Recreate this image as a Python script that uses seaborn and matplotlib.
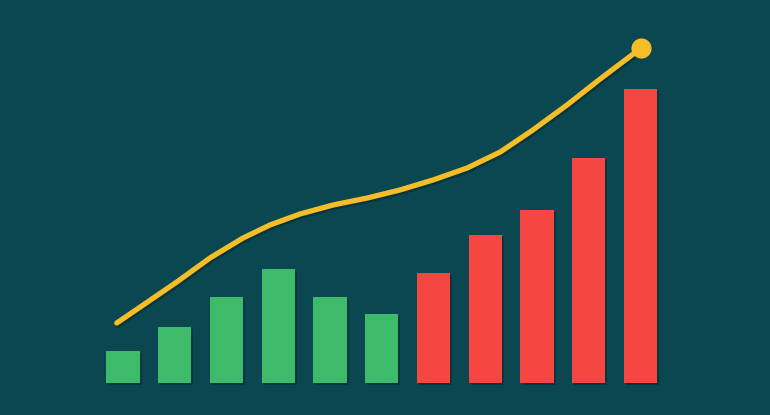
import matplotlib
matplotlib.use("Agg")
import matplotlib.pyplot as plt
import matplotlib.patheffects as pe
import seaborn as sns
import pandas as pd

# ---- data ----
categories = ["P1", "P2", "P3", "P4", "P5", "P6", "P7", "P8", "P9", "P10", "P11"]
bar_values = [32, 56, 86, 114, 86, 69, 110, 148, 173, 225, 294]
bar_groups = ["up", "up", "up", "up", "up", "up", "down", "down", "down", "down", "down"]
curve_x = [-0.12, 0.39, 1.04, 1.68, 2.32, 2.84, 3.42, 4.06, 4.72, 5.35,
           5.99, 6.65, 7.29, 7.92, 8.58, 9.22, 9.86, 10.01]
curve_y = [60, 78, 101, 125, 145, 158, 169, 178, 185, 193,
           203, 215, 231, 253, 278, 304, 329, 335]

BG = "#0A4751"
GREEN = "#3DBB6A"
RED = "#F64642"
YELLOW = "#F5BD28"

sns.set_theme(style="white")
fig = plt.figure(figsize=(7.7, 4.15), dpi=100, facecolor=BG)
ax = fig.add_axes([0, 0, 1, 1])
ax.set_facecolor(BG)

df = pd.DataFrame({"cat": categories, "val": bar_values, "grp": bar_groups})
palette = {"up": GREEN, "down": RED}
sns.barplot(data=df, x="cat", y="val", hue="grp", palette=palette, dodge=False,
            width=0.64, legend=False, ax=ax, saturation=1, linewidth=0)
for p in ax.patches:
    p.set_path_effects([pe.SimplePatchShadow(offset=(1.5, -1.5), alpha=0.25, shadow_rgbFace="black"),
                        pe.Normal()])

cdf = pd.DataFrame({"x": curve_x, "y": curve_y})
sns.lineplot(data=cdf, x="x", y="y", sort=False, color=YELLOW, linewidth=3.8,
             ax=ax, solid_capstyle="round", solid_joinstyle="round",
             path_effects=[pe.SimpleLineShadow(offset=(1, -1.5), alpha=0.25, shadow_color="black"), pe.Normal()])
ax.scatter([curve_x[-1]], [curve_y[-1]], s=210, color=YELLOW, zorder=5, linewidth=0)

ax.set_xlim(-123 / 51.75, (770 - 123) / 51.75)
ax.set_ylim(-32, 383)
ax.set_axis_off()

fig.savefig("out.png", dpi=100, facecolor=BG)
